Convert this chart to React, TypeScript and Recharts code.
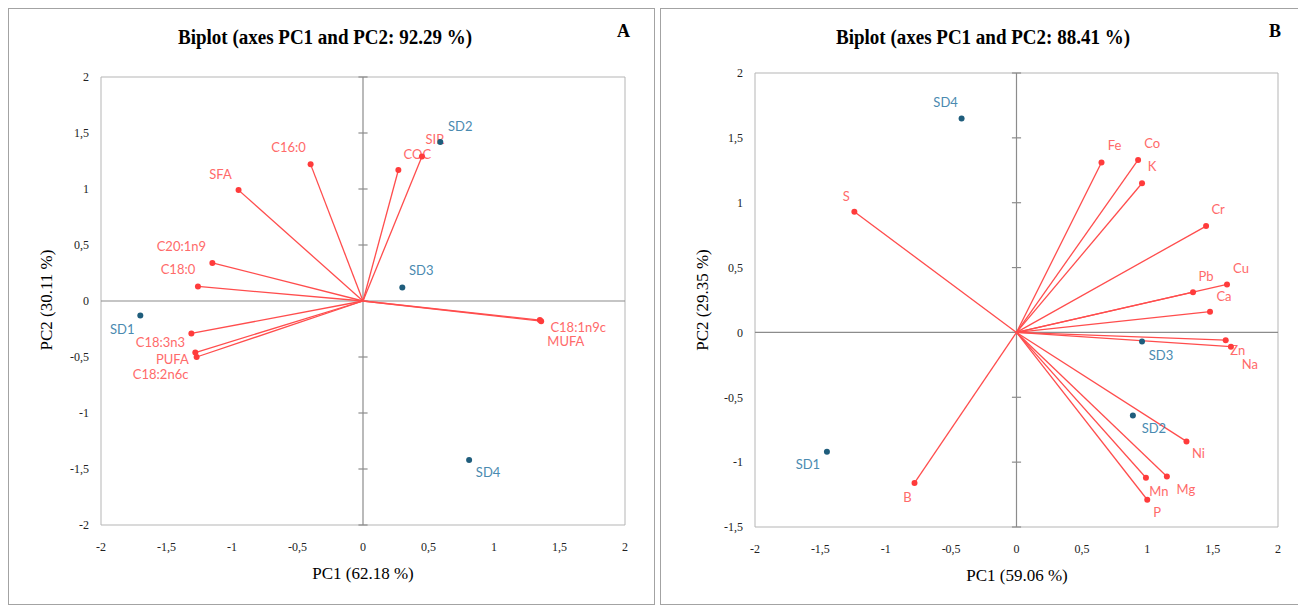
import React from 'react';
import { ScatterChart, Scatter, XAxis, YAxis, ReferenceLine, ReferenceArea } from 'recharts';

// ---------- Panel A data ----------
const varNamesA = ['C16:0', 'SFA', 'C20:1n9', 'C18:0', 'C18:3n3', 'C18:2n6c', 'PUFA', 'COC', 'SIR', 'C18:1n9c', 'MUFA'];
const varPC1A = [-0.40, -0.95, -1.15, -1.26, -1.31, -1.27, -1.28, 0.27, 0.45, 1.36, 1.35];
const varPC2A = [1.22, 0.99, 0.34, 0.13, -0.29, -0.50, -0.46, 1.17, 1.29, -0.18, -0.17];
const obsNamesA = ['SD1', 'SD2', 'SD3', 'SD4'];
const obsPC1A = [-1.70, 0.59, 0.30, 0.81];
const obsPC2A = [-0.13, 1.42, 0.12, -1.42];
const xTicksA = [-2, -1.5, -1, -0.5, 0, 0.5, 1, 1.5, 2];
const yTicksA = [-2, -1.5, -1, -0.5, 0, 0.5, 1, 1.5, 2];

// ---------- Panel B data ----------
const varNamesB = ['Fe', 'Co', 'K', 'Cr', 'Cu', 'Pb', 'Ca', 'Zn', 'Na', 'Ni', 'Mg', 'Mn', 'P', 'B', 'S'];
const varPC1B = [0.65, 0.93, 0.96, 1.45, 1.61, 1.35, 1.48, 1.60, 1.64, 1.30, 1.15, 0.99, 1.00, -0.78, -1.24];
const varPC2B = [1.31, 1.33, 1.15, 0.82, 0.37, 0.31, 0.16, -0.06, -0.11, -0.84, -1.11, -1.12, -1.29, -1.16, 0.93];
const obsNamesB = ['SD1', 'SD2', 'SD3', 'SD4'];
const obsPC1B = [-1.45, 0.89, 0.96, -0.42];
const obsPC2B = [-0.92, -0.64, -0.07, 1.65];
const xTicksB = [-2, -1.5, -1, -0.5, 0, 0.5, 1, 1.5, 2];
const yTicksB = [-1.5, -1, -0.5, 0, 0.5, 1, 1.5, 2];

// ---------- label placement (pixels, relative to the point) ----------
const labelOffA: Record<string, [number, number]> = {
  'C16:0': [-22, -17], SFA: [-18, -16], 'C20:1n9': [-31, -17], 'C18:0': [-20, -17],
  'C18:3n3': [-31, 9], 'C18:2n6c': [-36, 17], PUFA: [-23, 6], COC: [19, -16], SIR: [13, -18],
  'C18:1n9c': [37, 6], MUFA: [26, 21], SD1: [-18, 13], SD2: [20, -16], SD3: [19, -18], SD4: [19, 12],
};
const labelOffB: Record<string, [number, number]> = {
  Fe: [13, -18], Co: [14, -17], K: [10, -17], Cr: [12, -17], Cu: [14, -16], Pb: [13, -16], Ca: [14, -16],
  Zn: [12, 10], Na: [19, 17], Ni: [12, 12], Mg: [19, 13], Mn: [13, 13], P: [10, 12], B: [-7, 14], S: [-8, -16],
  SD1: [-19, 12], SD2: [21, 13], SD3: [19, 13], SD4: [-16, -16],
};

const VEC = '#ff4d4d';
const VEC_DOT = '#ff3b3b';
const VEC_LBL = '#ff6a6a';
const OBS_DOT = '#1f5d7c';
const OBS_LBL = '#4a8ab0';
const SERIF = '"Liberation Serif", "Times New Roman", serif';
const SANS = 'Lato, "Liberation Sans", sans-serif';

const fmt = (v: number) => String(v).replace('.', ',');

const build = (names: string[], xs: number[], ys: number[]) =>
  names.map((name, i) => ({ name, x: xs[i], y: ys[i] }));

const makeShape = (dot: string, lbl: string, offs: Record<string, [number, number]>) => (props: any) => {
  const { cx, cy, payload } = props;
  const [dx, dy] = offs[payload.name] ?? [12, -14];
  return (
    <g>
      <circle cx={cx} cy={cy} r={3} fill={dot} />
      <text x={cx + dx} y={cy + dy} textAnchor="middle" dominantBaseline="central" fontSize={13} fontFamily={SANS} fill={lbl}>
        {payload.name}
      </text>
    </g>
  );
};

type PanelProps = {
  left: number;
  width: number;
  title: string;
  letter: string;
  xTitle: string;
  yTitle: string;
  vars: { name: string; x: number; y: number }[];
  obs: { name: string; x: number; y: number }[];
  xTicks: number[];
  yTicks: number[];
  yDomain: [number, number];
  margin: { top: number; right: number; left: number; bottom: number };
  offs: Record<string, [number, number]>;
  titleX: number;
  xTitlePos: [number, number];
  yTitlePos: [number, number];
};

function Panel(p: PanelProps) {
  const innerW = p.width - 2;
  const innerH = 595;
  const tk = 0.035;
  return (
    <div
      style={{
        position: 'absolute',
        left: p.left,
        top: 0,
        width: p.width,
        height: 597,
        boxSizing: 'border-box',
        border: '1px solid #a3a3a3',
        background: '#fff',
      }}
    >
      <div
        style={{
          position: 'absolute',
          left: p.titleX,
          top: 17,
          transform: 'translateX(-50%) scaleX(0.95)',
          whiteSpace: 'nowrap',
          fontFamily: SERIF,
          fontWeight: 'bold',
          fontSize: 20,
          lineHeight: '22px',
        }}
      >
        {p.title}
      </div>
      <div
        style={{
          position: 'absolute',
          left: 608,
          top: 12,
          fontFamily: SERIF,
          fontWeight: 'bold',
          fontSize: 18,
          lineHeight: '20px',
        }}
      >
        {p.letter}
      </div>
      <div
        style={{
          position: 'absolute',
          left: p.xTitlePos[0],
          top: p.xTitlePos[1] - 10,
          transform: 'translateX(-50%)',
          whiteSpace: 'nowrap',
          fontFamily: SERIF,
          fontSize: 17,
          lineHeight: '20px',
        }}
      >
        {p.xTitle}
      </div>
      <div
        style={{
          position: 'absolute',
          left: p.yTitlePos[0],
          top: p.yTitlePos[1],
          transform: 'translate(-50%, -50%) rotate(-90deg)',
          whiteSpace: 'nowrap',
          fontFamily: SERIF,
          fontSize: 17,
          lineHeight: '20px',
        }}
      >
        {p.yTitle}
      </div>
      <div style={{ position: 'absolute', left: 0, top: 0 }}>
        <ScatterChart width={innerW} height={innerH} margin={p.margin}>
          <XAxis
            type="number"
            dataKey="x"
            domain={[-2, 2]}
            ticks={p.xTicks}
            interval={0}
            allowDataOverflow
            axisLine={false}
            tickLine={false}
            tickMargin={11}
            height={30}
            tickFormatter={fmt}
            tick={{ fontFamily: SERIF, fontSize: 12, fill: '#222' }}
          />
          <YAxis
            type="number"
            dataKey="y"
            domain={p.yDomain}
            ticks={p.yTicks}
            interval={0}
            allowDataOverflow
            axisLine={false}
            tickLine={false}
            tickMargin={6}
            width={40}
            tickFormatter={fmt}
            tick={{ fontFamily: SERIF, fontSize: 12, fill: '#222' }}
          />
          <ReferenceArea
            x1={-2}
            x2={2}
            y1={p.yDomain[0]}
            y2={p.yDomain[1]}
            fill="none"
            fillOpacity={0}
            stroke="#b5b5b5"
            strokeWidth={1}
          />
          <ReferenceLine y={0} stroke="#8c8c8c" strokeWidth={1.2} />
          <ReferenceLine x={0} stroke="#8c8c8c" strokeWidth={1.2} />
          {p.yTicks.map((t) => (
            <ReferenceLine
              key={'t' + t}
              segment={[
                { x: -tk, y: t },
                { x: tk, y: t },
              ]}
              stroke="#8c8c8c"
              strokeWidth={1.2}
            />
          ))}
          {p.vars.map((v) => (
            <ReferenceLine
              key={'v' + v.name}
              segment={[
                { x: 0, y: 0 },
                { x: v.x, y: v.y },
              ]}
              stroke={VEC}
              strokeWidth={1.3}
            />
          ))}
          <Scatter data={p.vars} isAnimationActive={false} shape={makeShape(VEC_DOT, VEC_LBL, p.offs)} />
          <Scatter data={p.obs} isAnimationActive={false} shape={makeShape(OBS_DOT, OBS_LBL, p.offs)} />
        </ScatterChart>
      </div>
    </div>
  );
}

export default function App() {
  const varsA = build(varNamesA, varPC1A, varPC2A);
  const obsA = build(obsNamesA, obsPC1A, obsPC2A);
  const varsB = build(varNamesB, varPC1B, varPC2B);
  const obsB = build(obsNamesB, obsPC1B, obsPC2B);
  return (
    <div style={{ position: 'relative', width: 1298, height: 597, overflow: 'hidden' }}>
      <Panel
        left={0}
        width={647}
        title="Biplot (axes PC1 and PC2: 92.29 %)"
        letter="A"
        xTitle="PC1 (62.18 %)"
        yTitle="PC2 (30.11 %)"
        vars={varsA}
        obs={obsA}
        xTicks={xTicksA}
        yTicks={yTicksA}
        yDomain={[-2, 2]}
        margin={{ top: 68, right: 29, left: 52, bottom: 49 }}
        offs={labelOffA}
        titleX={316}
        xTitlePos={[354, 565]}
        yTitlePos={[38, 291]}
      />
      <Panel
        left={652}
        width={644}
        title="Biplot (axes PC1 and PC2: 88.41 %)"
        letter="B"
        xTitle="PC1 (59.06 %)"
        yTitle="PC2 (29.35 %)"
        vars={varsB}
        obs={obsB}
        xTicks={xTicksB}
        yTicks={yTicksB}
        yDomain={[-1.5, 2]}
        margin={{ top: 64, right: 25, left: 54, bottom: 47 }}
        offs={labelOffB}
        titleX={322}
        xTitlePos={[356, 567]}
        yTitlePos={[42, 291]}
      />
    </div>
  );
}
